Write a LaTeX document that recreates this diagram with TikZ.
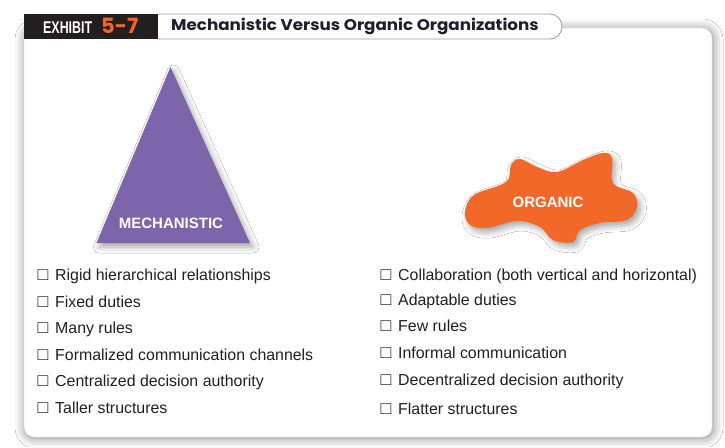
\documentclass[tikz,border=0pt]{standalone}
\usepackage{fontspec}
\setmainfont{Liberation Sans}
\newfontfamily\headfont{Poppins}
\usetikzlibrary{shadows.blur}
\definecolor{inkdark}{HTML}{231F20}
\definecolor{titleink}{HTML}{1E1E30}
\definecolor{exorange}{HTML}{F26522}
\definecolor{mechpurple}{HTML}{7D65AC}
\definecolor{orgorange}{HTML}{F26828}
\newcommand{\tickbox}{\makebox[17.5pt][l]{\scalebox{1.12}{□}}}

\begin{document}
\begin{tikzpicture}[x=1pt,y=-1pt,
  item/.style={anchor=base west, inner sep=0pt, font=\fontsize{15.9}{18}\selectfont, text=inkdark},
  shapelabel/.style={anchor=base, inner sep=0pt, font=\bfseries\fontsize{15}{17}\selectfont, text=white},
  softshadow/.style={blur shadow={shadow xshift=3pt, shadow yshift=-4pt, shadow blur radius=6pt, shadow opacity=35}}]
\useasboundingbox (0,0) rectangle (725,447);
\fill[white] (0,0) rectangle (725,447);

% white panel with a soft shadow all round
\path[fill=white, draw=gray!30, rounded corners=10pt,
  blur shadow={shadow xshift=1pt, shadow yshift=-1pt, shadow blur radius=10pt, shadow opacity=50}]
  (24,28) rectangle (712,437);

% exhibit tab and title bar
\fill[inkdark] (24,14) rectangle (158,39);
\node[anchor=base west, inner sep=0pt, text=white] (exhibit) at (43,33.3)
  {\scalebox{0.73}[1]{\bfseries\fontsize{17}{18}\selectfont EXHIBIT}};
\node[anchor=base west, inner sep=0pt, text=exorange] (number) at (101,33.3)
  {\headfont\bfseries\fontsize{21}{22}\selectfont 5-7};
\path[fill=white, draw=gray!80, line width=0.8pt]
  (158,14) -- (550,14) to[out=0,in=90] (562,26.5) to[out=-90,in=0] (550,39) -- (158,39);
\node[anchor=base west, inner sep=0pt, text=titleink] (title) at (171,30)
  {\scalebox{1.08}[1]{\headfont\bfseries\fontsize{15.5}{18}\selectfont Mechanistic Versus Organic Organizations}};

% mechanistic pyramid
\path[fill=mechpurple, softshadow] (170.5,67) -- (250,243) -- (96.5,243) -- cycle;
\node[shapelabel] (mech) at (171,228) {MECHANISTIC};

% organic blob
\path[fill=orgorange, softshadow] plot[smooth cycle, tension=0.6] coordinates {
  (465,212) (474,195) (506,182) (511,165) (520,159) (537,167) (557,172)
  (583,160) (603,153) (612,158) (613,183) (633,193) (637,207) (627,220)
  (600,223) (580,230) (573,242) (553,240) (540,227) (517,221) (487,228) (470,225)};
\node[shapelabel] (org) at (548,207) {ORGANIC};

% mechanistic traits
\node[item] (m1) at (37.5,280)   {\tickbox Rigid hierarchical relationships};
\node[item] (m2) at (37.5,307)   {\tickbox Fixed duties};
\node[item] (m3) at (37.5,333.5) {\tickbox Many rules};
\node[item] (m4) at (37.5,360)   {\tickbox Formalized communication channels};
\node[item] (m5) at (37.5,386.7) {\tickbox Centralized decision authority};
\node[item] (m6) at (37.5,413.3) {\tickbox Taller structures};

% organic traits
\node[item] (o1) at (380.5,280)   {\tickbox Collaboration (both vertical and horizontal)};
\node[item] (o2) at (380.5,305)   {\tickbox Adaptable duties};
\node[item] (o3) at (380.5,331.7) {\tickbox Few rules};
\node[item] (o4) at (380.5,358.3) {\tickbox Informal communication};
\node[item] (o5) at (380.5,385)   {\tickbox Decentralized decision authority};
\node[item] (o6) at (380.5,414)   {\tickbox Flatter structures};
\end{tikzpicture}
\end{document}
